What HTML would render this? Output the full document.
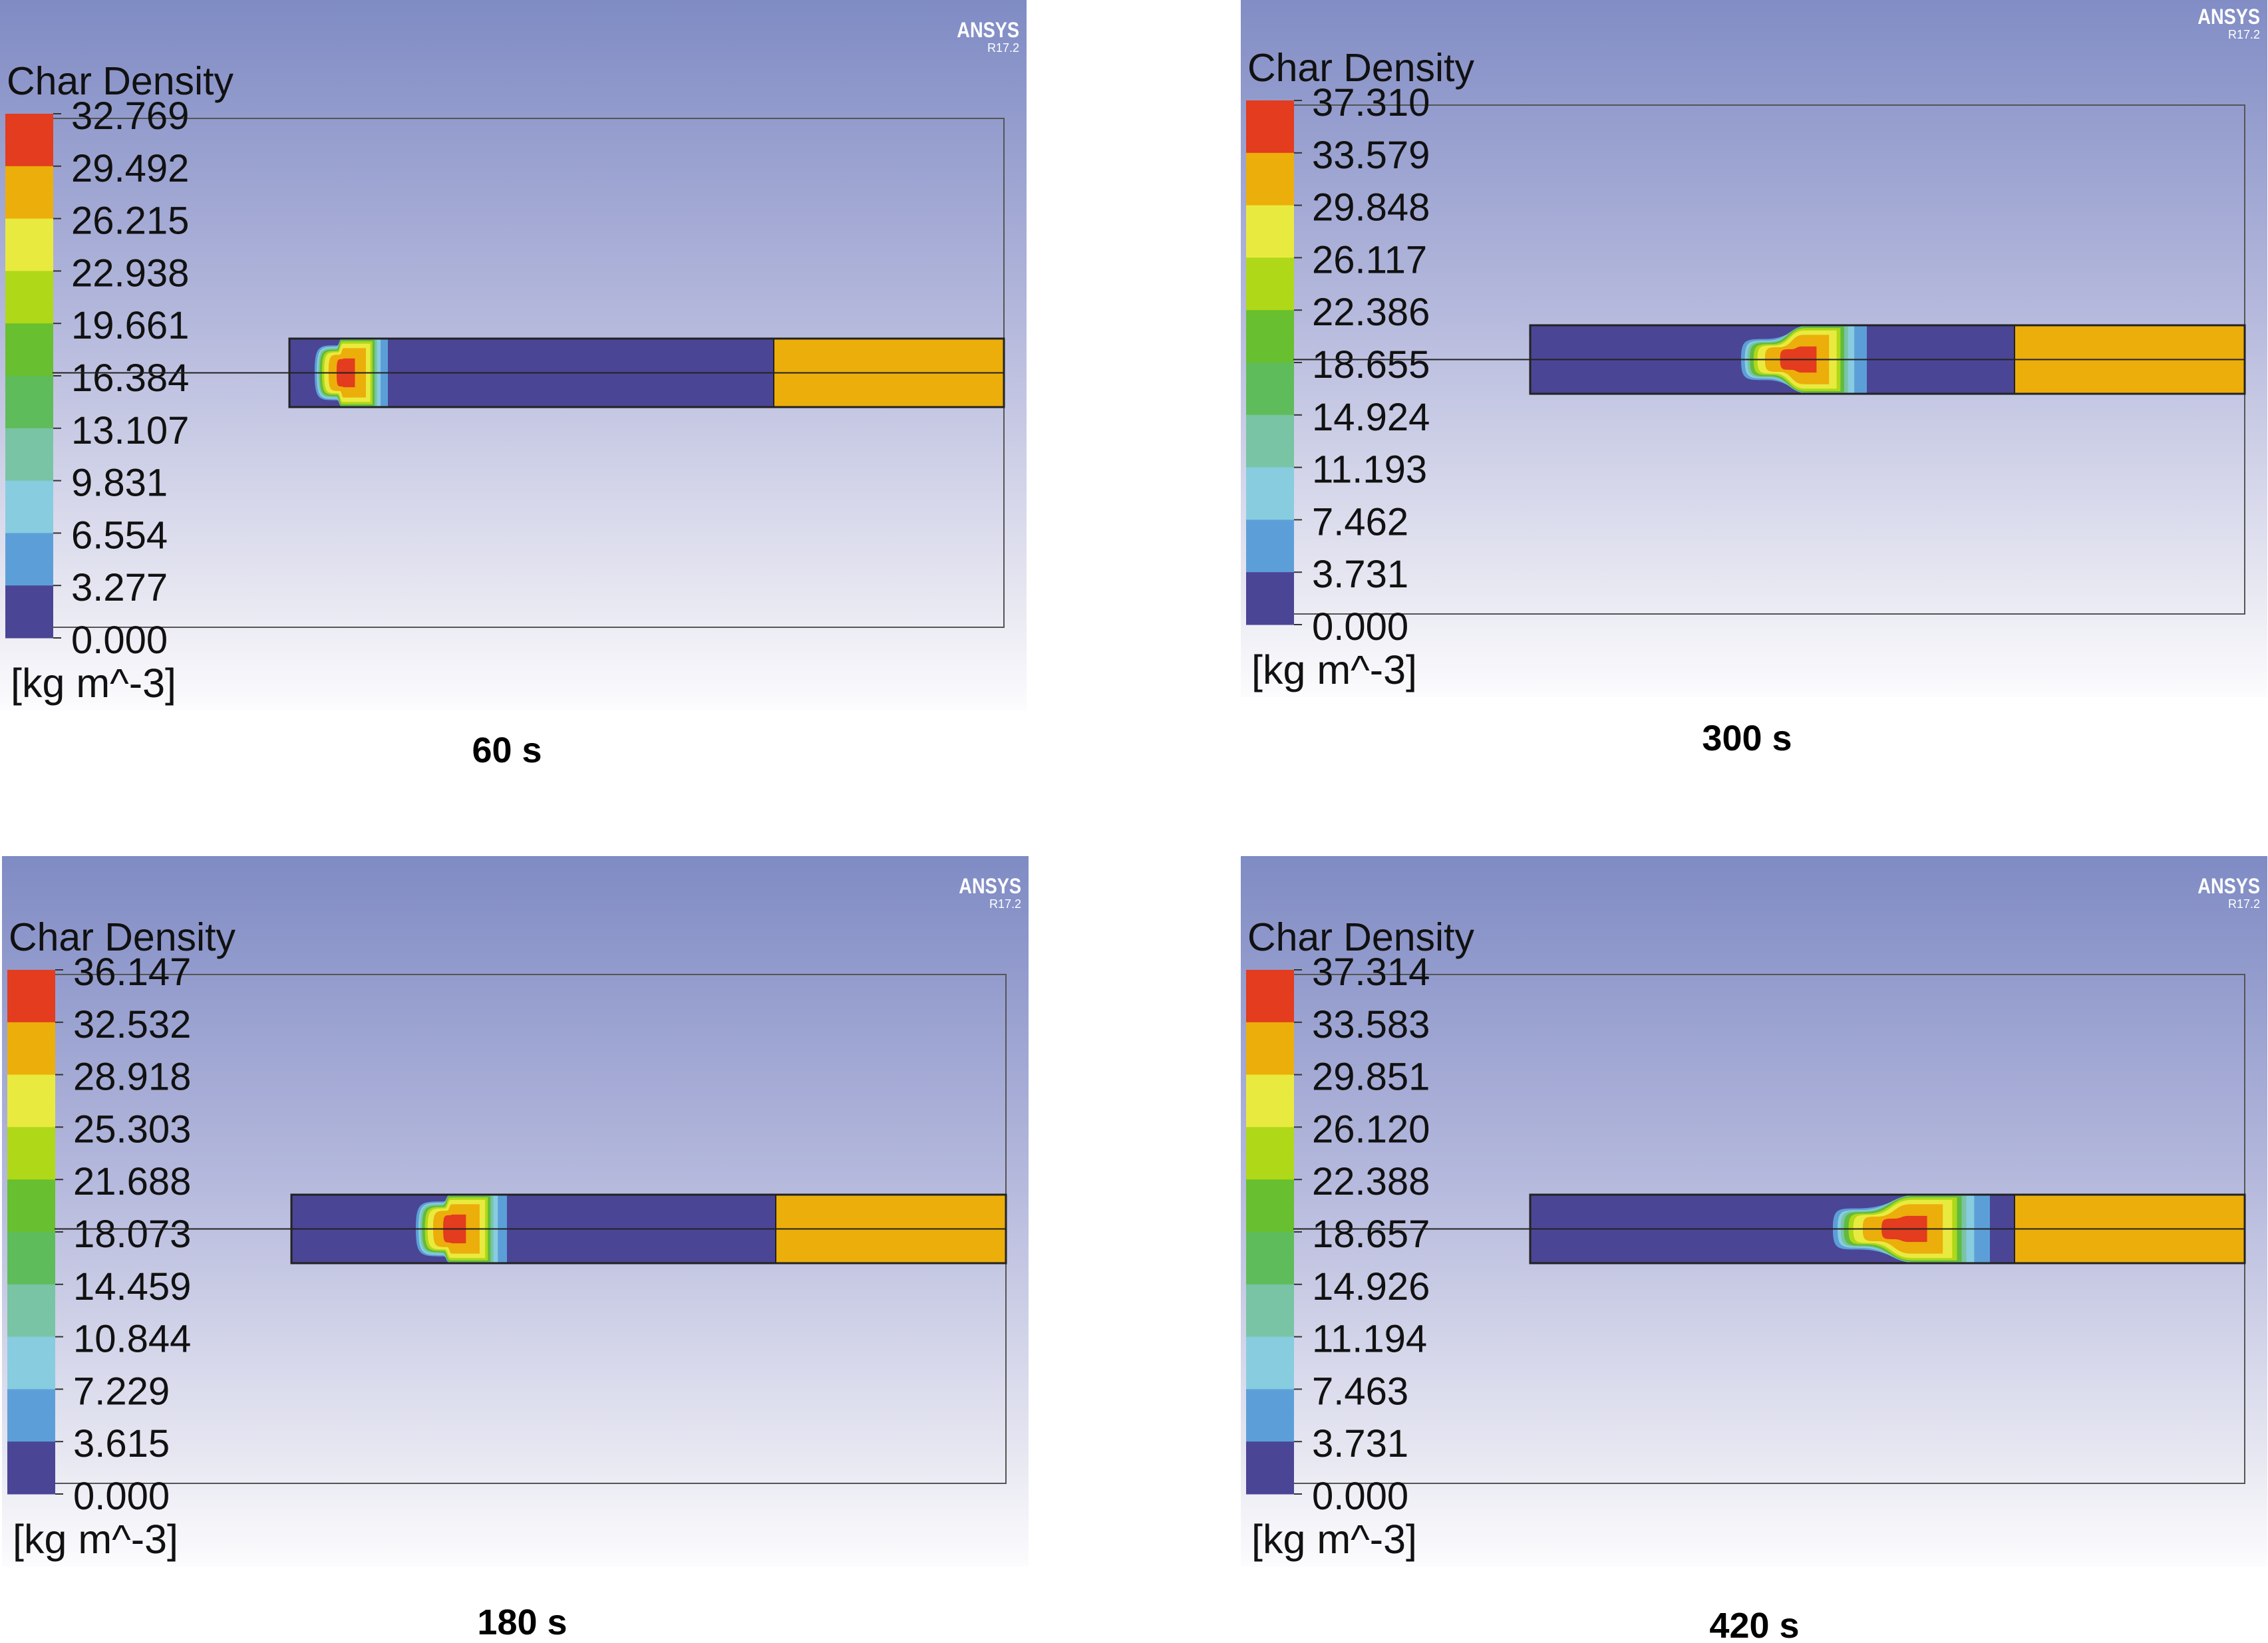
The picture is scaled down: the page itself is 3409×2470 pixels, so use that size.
<!DOCTYPE html>
<html><head><meta charset="utf-8"><style>
html,body{margin:0;padding:0;background:#fff;overflow:hidden;}
svg{display:block;font-family:"Liberation Sans",sans-serif;}
</style></head><body>
<svg id="fig" width="3409" height="2470" viewBox="0 0 3409 2470">
<defs>
<linearGradient id="bg" x1="0" y1="0" x2="0" y2="1">
<stop offset="0" stop-color="#7f8bc4"/><stop offset="0.45" stop-color="#b4b8dc"/><stop offset="0.85" stop-color="#e8e8f2"/><stop offset="1" stop-color="#fcfcfe"/>
</linearGradient>
</defs>
</svg>
<script>
const panelTimes = ["60 s","300 s","180 s","420 s"];
const ticks60 = ["32.769","29.492","26.215","22.938","19.661","16.384","13.107","9.831","6.554","3.277","0.000"];
const ticks300 = ["37.310","33.579","29.848","26.117","22.386","18.655","14.924","11.193","7.462","3.731","0.000"];
const ticks180 = ["36.147","32.532","28.918","25.303","21.688","18.073","14.459","10.844","7.229","3.615","0.000"];
const ticks420 = ["37.314","33.583","29.851","26.120","22.388","18.657","14.926","11.194","7.463","3.731","0.000"];
const tickSets = [ticks60, ticks300, ticks180, ticks420];
const bandColors = ["#e33c1f","#ecae0a","#e9ea40","#afd818","#68bf30","#5fbc5a","#78c4a4","#88cce0","#5c9fd8","#4b4596"];
// front position of char blob (relative px from rod start): [outerLeft, outerRight]
const blobFronts = [[38,148],[317,506],[187,324],[455,691]];

const NS="http://www.w3.org/2000/svg";
const svg=document.getElementById('fig');
function mk(tag,attrs,parent){const e=document.createElementNS(NS,tag);for(const k in attrs)e.setAttribute(k,attrs[k]);(parent||svg).appendChild(e);return e;}
const offsets=[[0,0],[1865,-20],[3,1287],[1865,1287]];
const captions=[[762,1146],[2626,1128],[785,2457],[2637,2462]];
offsets.forEach((o,pi)=>{
  const g=mk('g',{transform:`translate(${o[0]},${o[1]})`});
  
  
  const bgr=mk('rect',{x:0,y:0,width:1543,height:1068,fill:'url(#bg)'},g);
  
  
  const an=mk('text',{x:1532,y:56,'text-anchor':'end','font-size':32,'font-weight':'bold',fill:'#fff',transform:'translate(1532,0) scale(0.85,1) translate(-1532,0)'},g);an.textContent='ANSYS';
  
  
  const rv=mk('text',{x:1532,y:78,'text-anchor':'end','font-size':18,fill:'#fff'},g);rv.textContent='R17.2';
  
  
  const tt=mk('text',{x:10,y:142,'font-size':59,fill:'#111'},g);tt.textContent='Char Density';
  
  
  const box=mk('rect',{x:79,y:178,width:1430,height:765,fill:'none',stroke:'#555','stroke-width':2},g);
  
  
  const cbTop=171,cbH=788,bh=cbH/bandColors.length;
  bandColors.forEach((c,i)=>{const r=mk('rect',{x:8,y:cbTop+i*bh,width:72,height:bh+0.5,fill:c},g);
    
    });
  tickSets[pi].forEach((t,i)=>{
    const y=cbTop+i*bh;
    mk('line',{x1:80,x2:92,y1:y,y2:y,stroke:'#333','stroke-width':2},g);
    const tx=mk('text',{x:107,y:y+23,'font-size':58,fill:'#111'},g);tx.textContent=t;
    
    
  });
  const un=mk('text',{x:16,y:1048,'font-size':61,fill:'#111'},g);un.textContent='[kg m^-3]';
  
  
  const rx=435,ry=509,rh=103,rw=1074,ox=1163,mid=ry+rh/2;
  const rod=mk('rect',{x:rx,y:ry,width:rw,height:rh,fill:'#4b4596'},g);
  
  
  const orr=mk('rect',{x:ox,y:ry,width:rx+rw-ox,height:rh,fill:'#ecae0a'},g);
  
  
  const [bl,br]=blobFronts[pi];const L=br-bl;const big=L>180;
  const layers=[
    {c:'#5c9fd8',l:0,r:1,hl:big?0.6:0.8,hr:1},
    {c:'#88cce0',l:0.03,r:0.9,hl:big?0.55:0.76,hr:1},
    {c:'#78c4a4',l:0.05,r:0.85,hl:big?0.52:0.72,hr:0.98},
    {c:'#60bb40',l:0.07,r:0.82,hl:big?0.49:0.68,hr:0.96},
    {c:'#afd818',l:0.1,r:0.79,hl:big?0.45:0.64,hr:0.92},
    {c:'#e9ea40',l:0.13,r:0.76,hl:big?0.41:0.6,hr:0.85},
    {c:'#ecae0a',l:0.19,r:0.7,hl:big?0.36:0.53,hr:0.72},
    {c:'#e33c1f',l:big?0.31:0.3,r:big?0.6:0.55,hl:big?0.3:0.4,hr:big?0.38:0.42}
  ];
  layers.forEach((ly,li)=>{
    const xl=rx+bl+ly.l*L,xr=rx+bl+ly.r*L,hl=ly.hl*rh/2,hr=ly.hr*rh/2;
    const a=Math.min((xr-xl)*0.3,hl*1.2),xk=xl+(xr-xl)*(big?0.6:0.4);
    const d=`M${xl},${mid} C${xl},${mid-hl} ${xl+a*0.2},${mid-hl} ${xl+a},${mid-hl} C${(xl+a+xk)/2},${mid-hl} ${(xl+a+xk)/2},${mid-hr} ${xk},${mid-hr} L${xr},${mid-hr} L${xr},${mid+hr} L${xk},${mid+hr} C${(xl+a+xk)/2},${mid+hr} ${(xl+a+xk)/2},${mid+hl} ${xl+a},${mid+hl} C${xl+a*0.2},${mid+hl} ${xl},${mid+hl} ${xl},${mid} Z`;
    const p=mk('path',{d:d,fill:ly.c},g);
    
    
  });
  mk('rect',{x:rx,y:ry,width:rw,height:rh,fill:'none',stroke:'#222','stroke-width':3},g);
  mk('line',{x1:ox,x2:ox,y1:ry,y2:ry+rh,stroke:'#222','stroke-width':2},g);
  const cl=mk('line',{x1:79,x2:1509,y1:mid,y2:mid,stroke:'#222','stroke-width':2},g);
  
  
  const cap=mk('text',{x:captions[pi][0],y:captions[pi][1],'text-anchor':'middle','font-size':54,'font-weight':'bold',fill:'#000'});
  cap.textContent=panelTimes[pi];
  
  
});
</script>
</body></html>
